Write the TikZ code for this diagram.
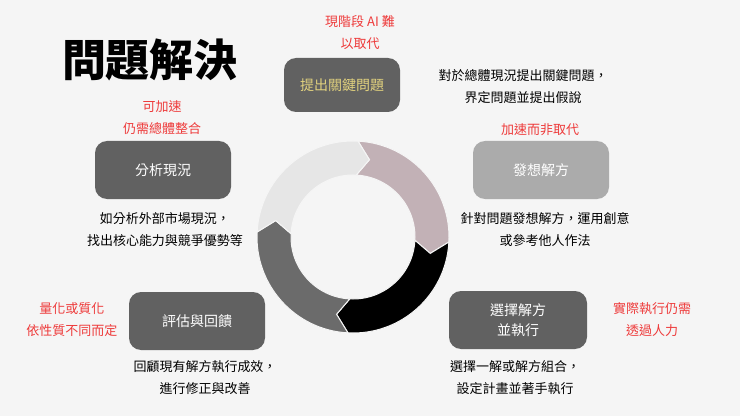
\documentclass[tikz,border=0pt]{standalone}
\usepackage{fontspec}
\setmainfont{Noto Sans CJK TC}
\definecolor{bg}{HTML}{F5F5F5}
\definecolor{boxg}{HTML}{616161}
\definecolor{boxl}{HTML}{ABABAB}
\definecolor{mauve}{HTML}{C2B1B6}
\definecolor{ringd}{HTML}{6B6B6B}
\definecolor{ringl}{HTML}{E6E6E6}
\definecolor{redt}{HTML}{EE3B3B}
\definecolor{gold}{HTML}{E2D27E}
\begin{document}
\begin{tikzpicture}[x=1pt,y=1pt,
  box/.style={fill=boxg,rounded corners=12pt,minimum width=136pt,minimum height=58pt,text=white,font=\fontsize{14}{20}\selectfont,align=center},
  note/.style={text=redt,font=\fontsize{13}{22}\selectfont,align=center},
  desc/.style={text=black,font=\fontsize{13}{22}\selectfont,align=center}]
\fill[bg] (0,0) rectangle (740,416);
\useasboundingbox (0,0) rectangle (740,416);
\node[font=\fontsize{44}{46}\selectfont\bfseries] (title) at (150,356) {問題解決};
\begin{scope}[shift={(353,179)}]
\def\Ro{96}\def\Ri{62}\def\Rm{79}\def\dd{9}
\foreach \s/\c in {87/mauve, -3/black, -93/ringd, 177/ringl}{
  \pgfmathsetmacro\e{\s-90}
  \fill[\c,draw=bg,line width=1pt] (\s:\Ro) arc[start angle=\s,end angle=\e,radius=\Ro] -- (\e-\dd:\Rm) -- (\e:\Ri) arc[start angle=\e,end angle=\s,radius=\Ri] -- (\s-\dd:\Rm) -- cycle;
}
\end{scope}
\node[box,minimum width=116pt,minimum height=54pt,text=gold] (b1) at (342,331) {提出關鍵問題};
\node[box] (b2) at (163,246) {分析現況};
\node[box,fill=boxl] (b3) at (541,246) {發想解方};
\node[box] (b4) at (197,95) {評估與回饋};
\node[box,minimum width=138pt] (b5) at (518,96) {選擇解方\\並執行};
\node[note] (n1) at (360,383) {現階段 AI 難\\以取代};
\node[note] (n2) at (162,298) {可加速\\仍需總體整合};
\node[note] (n3) at (540,286) {加速而非取代};
\node[note] (n4) at (72,96) {量化或質化\\依性質不同而定};
\node[note] (n5) at (652,96) {實際執行仍需\\透過人力};
\node[desc] (d1) at (523,329) {對於總體現況提出關鍵問題，\\界定問題並提出假說};
\node[desc] (d2) at (165,186) {如分析外部市場現況，\\找出核心能力與競爭優勢等};
\node[desc] (d3) at (545,186) {針對問題發想解方，運用創意\\或參考他人作法};
\node[desc] (d4) at (205,38) {回顧現有解方執行成效，\\進行修正與改善};
\node[desc] (d5) at (515,38) {選擇一解或解方組合，\\設定計畫並著手執行};
\end{tikzpicture}
\end{document}
